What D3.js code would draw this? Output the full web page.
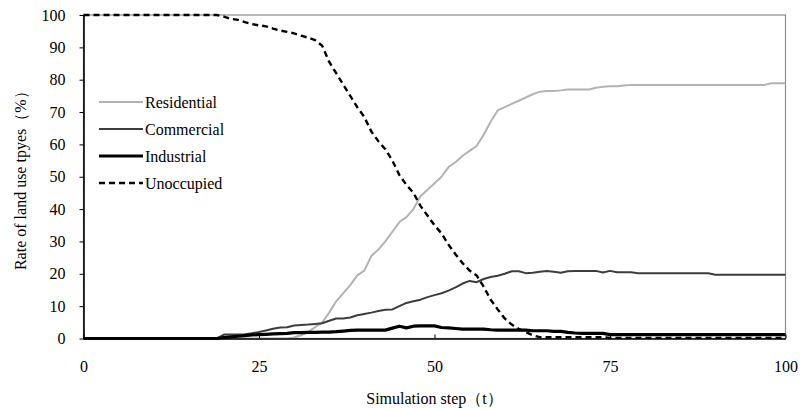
<!DOCTYPE html>
<html>
<head>
<meta charset="utf-8">
<script src="https://cdn.jsdelivr.net/npm/d3@7"></script>
<style>
    body { margin: 0; background: #fff; }
    svg { display: block; }
    svg text { font-family: "Liberation Serif", "DejaVu Serif", "Noto Serif", serif; }
</style>
</head>
<body>
<svg id="chart" width="800" height="409"></svg>
<script>
// simulation steps 0..100
const steps = [
    0, 1, 2, 3, 4, 5, 6, 7, 8, 9, 10, 11, 12, 13, 14, 15, 16, 17, 18, 19,
    20, 21, 22, 23, 24, 25, 26, 27, 28, 29, 30, 31, 32, 33, 34, 35, 36, 37, 38, 39,
    40, 41, 42, 43, 44, 45, 46, 47, 48, 49, 50, 51, 52, 53, 54, 55, 56, 57, 58, 59,
    60, 61, 62, 63, 64, 65, 66, 67, 68, 69, 70, 71, 72, 73, 74, 75, 76, 77, 78, 79,
    80, 81, 82, 83, 84, 85, 86, 87, 88, 89, 90, 91, 92, 93, 94, 95, 96, 97, 98, 99, 100
];

const residential = [
    0, 0, 0, 0, 0, 0, 0, 0, 0, 0, 0, 0, 0, 0, 0, 0, 0, 0, 0, 0,
    0, 0, 0, 0, 0, 0, 0, 0, 0, 0, 0.3, 1, 2, 3.5, 5, 8, 11.5, 14, 16.5, 19.5,
    21, 25.5, 27.5, 30, 33, 36, 37.5, 40, 44, 46, 48, 50, 53, 54.5, 56.5, 58, 59.5, 63, 67, 70.5,
    71.5, 72.5, 73.5, 74.5, 75.5, 76.3, 76.5, 76.5, 76.7, 77, 77, 77, 77, 77.5, 77.8, 78, 78, 78.2, 78.4, 78.4,
    78.4, 78.4, 78.4, 78.4, 78.4, 78.4, 78.4, 78.4, 78.4, 78.4, 78.4, 78.4, 78.4, 78.4, 78.4, 78.4, 78.4, 78.4, 78.9, 78.9, 78.9
];

const commercial = [
    0, 0, 0, 0, 0, 0, 0, 0, 0, 0, 0, 0, 0, 0, 0, 0, 0, 0, 0, 0,
    1.2, 1.2, 1.2, 1.3, 1.6, 2, 2.5, 3, 3.4, 3.5, 4, 4.2, 4.3, 4.5, 4.7, 5.5, 6.2, 6.2, 6.5, 7.2,
    7.6, 8, 8.5, 8.9, 9, 10, 11, 11.5, 12, 12.8, 13.4, 14, 14.8, 15.8, 17, 17.8, 17.4, 18.4, 19, 19.4,
    20, 20.8, 20.8, 20.2, 20.3, 20.6, 20.9, 20.6, 20.3, 20.8, 20.9, 20.9, 20.9, 20.9, 20.4, 20.9, 20.5, 20.5, 20.5, 20.2,
    20.2, 20.2, 20.2, 20.2, 20.2, 20.2, 20.2, 20.2, 20.2, 20.2, 19.7, 19.7, 19.7, 19.7, 19.7, 19.7, 19.7, 19.7, 19.7, 19.7, 19.7
];

const industrial = [
    0, 0, 0, 0, 0, 0, 0, 0, 0, 0, 0, 0, 0, 0, 0, 0, 0, 0, 0, 0,
    0.3, 0.5, 0.7, 0.9, 1.1, 1.2, 1.3, 1.4, 1.5, 1.6, 1.8, 1.8, 1.9, 1.9, 2, 2, 2.1, 2.3, 2.5, 2.6,
    2.6, 2.6, 2.6, 2.6, 3.2, 3.8, 3.3, 3.8, 3.9, 3.9, 3.9, 3.4, 3.3, 3.1, 2.9, 2.9, 2.9, 2.9, 2.7, 2.6,
    2.6, 2.6, 2.6, 2.6, 2.4, 2.4, 2.4, 2.2, 2.2, 1.9, 1.7, 1.6, 1.6, 1.6, 1.6, 1.2, 1.2, 1.2, 1.2, 1.2,
    1.2, 1.2, 1.2, 1.2, 1.2, 1.2, 1.2, 1.2, 1.2, 1.2, 1.2, 1.2, 1.2, 1.2, 1.2, 1.2, 1.2, 1.2, 1.2, 1.2, 1.2
];

const unoccupied = [
    100, 100, 100, 100, 100, 100, 100, 100, 100, 100, 100, 100, 100, 100, 100, 100, 100, 100, 100, 100,
    99.5, 98.8, 98.5, 97.8, 97.2, 96.8, 96.5, 95.8, 95.2, 94.8, 94.3, 93.6, 93, 92.2, 90.5, 85.5, 82, 78.5, 75, 71.5,
    68.5, 64, 61, 58.5, 55, 50.5, 47.5, 45, 41, 38, 35, 32.5, 29, 26, 23.3, 21, 19.5, 16, 12, 9,
    6.2, 4.3, 3, 2, 1, 0.4, 0.4, 0.4, 0.4, 0.4, 0.4, 0.4, 0.4, 0.4, 0.4, 0.2, 0.2, 0.2, 0.2, 0.2,
    0.2, 0.2, 0.2, 0.2, 0.2, 0.2, 0.2, 0.2, 0.2, 0.2, 0.2, 0.2, 0.2, 0.2, 0.2, 0.2, 0.2, 0.2, 0.2, 0.2, 0.2
];

const seriesNames = ["Residential", "Commercial", "Industrial", "Unoccupied"];
const yTicks = [0, 10, 20, 30, 40, 50, 60, 70, 80, 90, 100];
const xTicks = [0, 25, 50, 75, 100];

const styles = {
    Residential: { colour: "#b3b3b3", width: 2, dash: null },
    Commercial: { colour: "#3d3d3d", width: 2, dash: null },
    Industrial: { colour: "#000", width: 3.2, dash: null },
    Unoccupied: { colour: "#000", width: 2.4, dash: "6,4" },
};
const seriesValues = [residential, commercial, industrial, unoccupied];
const serif = "'Liberation Serif', 'DejaVu Serif', serif";

const svg = d3.select("#chart");

const margin = { top: 15, right: 14.5, bottom: 70.5, left: 83.5 },
    width = 800 - margin.left - margin.right,
    height = 409 - margin.top - margin.bottom;

const x = d3.scaleLinear().domain([0, 100]).range([margin.left, margin.left + width]);
const y = d3.scaleLinear().domain([0, 100]).range([margin.top + height, margin.top]);

// plot frame (grey)
svg.append("rect")
    .attr("x", x(0))
    .attr("y", y(100))
    .attr("width", x(100) - x(0))
    .attr("height", y(0) - y(100))
    .attr("fill", "none")
    .attr("stroke", "#8c8c8c")
    .attr("stroke-width", 1.2);

// lines
const line = d3.line()
    .x((d, i) => x(steps[i]))
    .y(d => y(d));

seriesNames.forEach((name, k) => {
    const s = styles[name];
    svg.append("path")
        .datum(seriesValues[k])
        .attr("fill", "none")
        .attr("stroke", s.colour)
        .attr("stroke-width", s.width)
        .attr("stroke-dasharray", s.dash)
        .attr("stroke-linejoin", "round")
        .attr("d", line);
});

// y axis
const yAxis = svg.append("g")
    .attr("transform", "translate(" + x(0) + ",0)")
    .call(d3.axisLeft(y).tickValues(yTicks).tickSize(4).tickSizeOuter(0).tickPadding(14));
yAxis.attr("font-family", serif).attr("font-size", 16);
yAxis.select(".domain").attr("stroke", "#000").attr("stroke-width", 1.6);
yAxis.selectAll(".tick line").attr("stroke", "#000").attr("stroke-width", 1);
yAxis.selectAll("text").attr("fill", "#000");

// x axis, ticks point inward
const xAxis = svg.append("g")
    .attr("transform", "translate(0," + y(0) + ")")
    .call(d3.axisBottom(x).tickValues(xTicks).tickSize(-4).tickSizeOuter(0).tickPadding(22));
xAxis.attr("font-family", serif).attr("font-size", 16);
xAxis.select(".domain").attr("stroke", "#000").attr("stroke-width", 1.4);
xAxis.selectAll(".tick line").attr("stroke", "#000").attr("stroke-width", 1);
xAxis.selectAll("text").attr("fill", "#000");

// axis titles
svg.append("text")
    .attr("x", (x(0) + x(100)) / 2)
    .attr("y", 404)
    .attr("text-anchor", "middle")
    .attr("font-size", 16)
    .text("Simulation step（t）");

svg.append("text")
    .attr("transform", "translate(26," + ((y(0) + y(100)) / 2) + ") rotate(-90)")
    .attr("text-anchor", "middle")
    .attr("font-size", 16)
    .text("Rate of land use tpyes（%）");

// legend
const legend = svg.append("g")
    .attr("transform", "translate(99,102)");

seriesNames.forEach((name, k) => {
    const s = styles[name],
        g = legend.append("g").attr("transform", "translate(0," + (k * 27) + ")");
    g.append("line")
        .attr("x1", 0)
        .attr("x2", 44)
        .attr("stroke", s.colour)
        .attr("stroke-width", s.width)
        .attr("stroke-dasharray", s.dash);
    g.append("text")
        .attr("x", 46)
        .attr("dy", "0.35em")
        .attr("font-size", 16)
        .text(name);
});
</script>
</body>
</html>
